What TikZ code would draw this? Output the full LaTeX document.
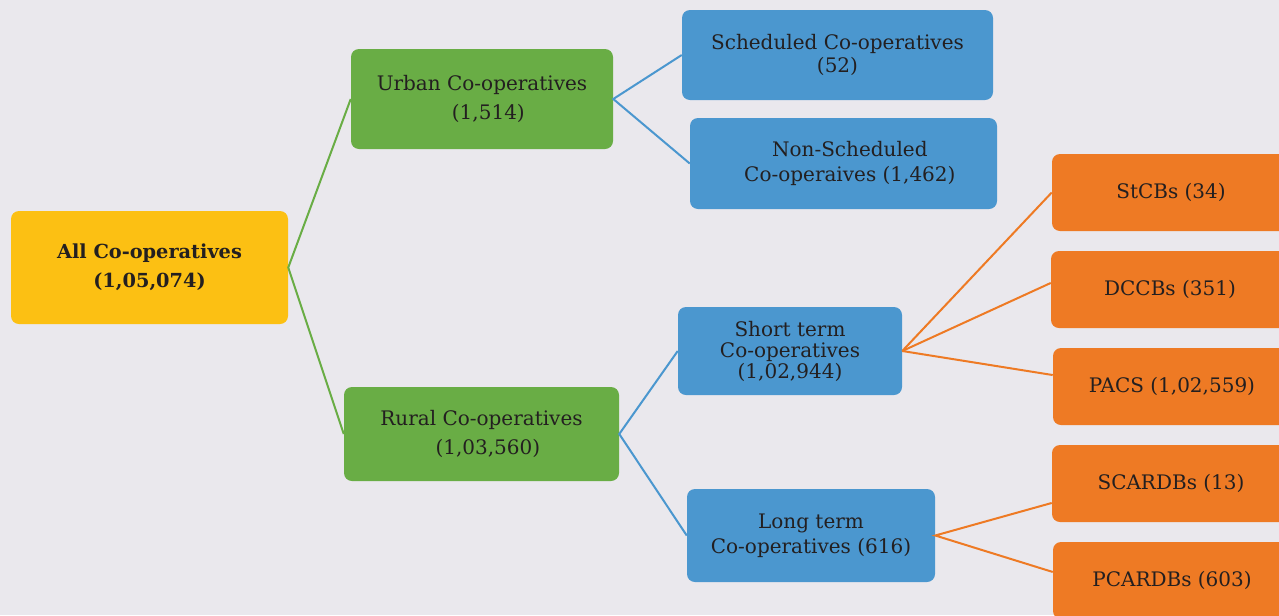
\documentclass[tikz,border=0pt]{standalone}
\usepackage{fontspec}
\setmainfont{DejaVu Serif}
\definecolor{bg}{HTML}{EAE8ED}
\definecolor{boxyellow}{HTML}{FCC013}
\definecolor{boxgreen}{HTML}{69AD45}
\definecolor{boxblue}{HTML}{4B97CF}
\definecolor{boxorange}{HTML}{EE7A24}
\definecolor{ink}{HTML}{231F20}
\tikzset{
  cbox/.style={rounded corners=6pt, inner sep=0pt, align=center, text=ink,
    font=\fontsize{15}{18.5}\selectfont},
  topbox/.style={cbox, fill=boxyellow, font=\fontsize{14.5}{21.5}\selectfont\bfseries},
  greenbox/.style={cbox, fill=boxgreen, font=\fontsize{15}{21.5}\selectfont},
  bluebox/.style={cbox, fill=boxblue},
  orangebox/.style={cbox, fill=boxorange, minimum width=178.5pt, minimum height=57.75pt},
  gline/.style={draw=boxgreen, line width=1.5pt},
  bline/.style={draw=boxblue, line width=1.5pt},
  oline/.style={draw=boxorange, line width=1.5pt}
}
\begin{document}
\begin{tikzpicture}[x=0.75pt,y=-0.75pt]
\fill[bg] (0,0) rectangle (1279,615);
\useasboundingbox (0,0) rectangle (1279,615);

\node(all) at (149.5,267.5) [topbox, minimum width=207.75pt, minimum height=84.75pt]{All Co-operatives\\(1,05,074)};

\node(urban) at (482,99) [greenbox, minimum width=196.5pt, minimum height=75pt]{Urban Co-operatives\\\ \ (1,514)};
\node(rural) at (481.5,434) [greenbox, minimum width=206.25pt, minimum height=70.5pt]{Rural Co-operatives\\\ \ (1,03,560)};

\node(sched) at (837.5,55) [bluebox, minimum width=233.25pt, minimum height=67.5pt, font=\fontsize{15}{17}\selectfont]{Scheduled Co-operatives\\(52)};
\node(nonsched) at (843.5,163.5) [bluebox, minimum width=230.25pt, minimum height=68.25pt]{\ \ Non-Scheduled\\\ \ Co-operaives (1,462)};
\node(short) at (790,351) [bluebox, minimum width=168pt, minimum height=66pt, font=\fontsize{15}{15.75}\selectfont]{Short term\\Co-operatives\\(1,02,944)};
\node(long) at (811,535.5) [bluebox, minimum width=186pt, minimum height=69.75pt]{Long term\\Co-operatives (616)};

\node(stcb) at (1171,192.5) [orangebox]{StCBs (34)};
\node(dccb) at (1170,289.5) [orangebox]{DCCBs (351)};
\node(pacs) at (1172,386.5) [orangebox]{PACS (1,02,559)};
\node(scardb) at (1171,483.5) [orangebox]{SCARDBs (13)};
\node(pcardb) at (1172,580.5) [orangebox]{PCARDBs (603)};

\draw[gline] (urban.west) -- (all.east) -- (rural.west);
\draw[bline] (sched.west) -- (urban.east) -- (nonsched.west);
\draw[bline] (short.west) -- (rural.east) -- (long.west);
\draw[oline] (stcb.west) -- (short.east);
\draw[oline] ([yshift=4.9pt]dccb.west) -- (short.east);
\draw[oline] ([yshift=8.6pt]pacs.west) -- (short.east);
\draw[oline] ([yshift=-14.6pt]scardb.west) -- (long.east) -- ([yshift=6.4pt]pcardb.west);

\end{tikzpicture}
\end{document}
